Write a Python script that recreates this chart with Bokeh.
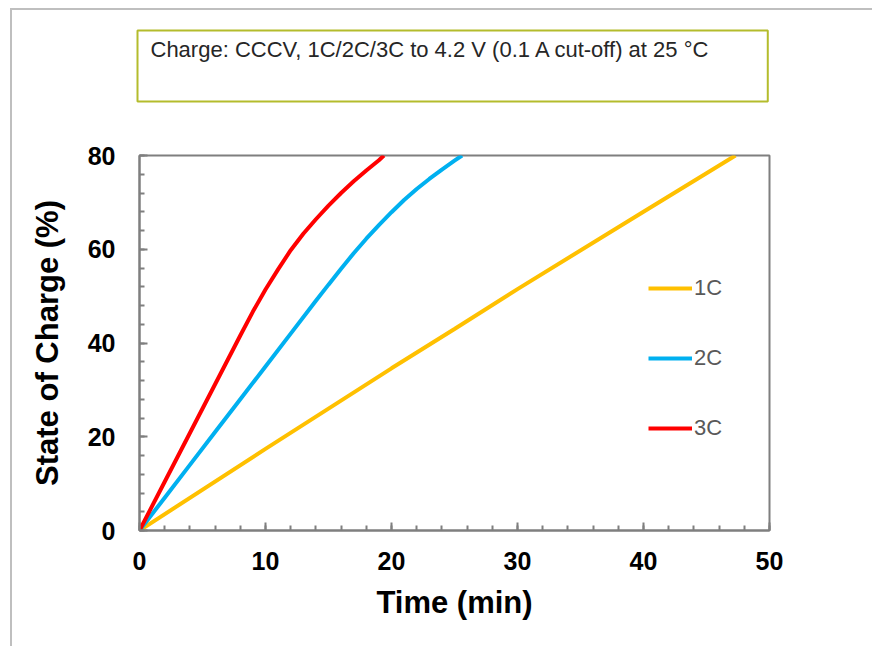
from bokeh.plotting import figure
from bokeh.models import Range1d, SingleIntervalTicker, Legend, LegendItem, Title
from bokeh.embed import file_html
from bokeh.resources import INLINE

# ---- data ----
t_1c = [0, 10, 20, 25, 30, 40, 47.3]
soc_1c = [0, 17.4, 34.6, 43.0, 51.5, 68.0, 80]

t_2c = [0, 2, 4, 6, 8, 10, 12, 14, 15, 16, 17, 18, 19, 20, 21, 22, 23, 24, 25, 25.6]
soc_2c = [0, 7, 14, 21, 28, 35, 42, 49, 52.45, 55.85, 59.15, 62.25, 65.15, 67.9, 70.5,
          72.85, 75.0, 77.0, 78.9, 80]

t_3c = [0, 2, 4, 6, 8, 9, 10, 11, 12, 13, 14, 15, 16, 17, 18, 19, 19.4]
soc_3c = [0, 10.4, 20.8, 31.2, 41.6, 46.7, 51.4, 55.7, 59.8, 63.3, 66.4, 69.3, 72.0,
          74.5, 76.8, 79.0, 80]

series_names = ["1C", "2C", "3C"]
series_colors = ["#FFC000", "#00B0F0", "#FF0000"]

title_text = "Charge: CCCV, 1C/2C/3C to 4.2 V (0.1 A cut-off) at 25 \u00b0C"
x_label = "Time (min)"
y_label = "State of Charge (%)"

FONT = "Liberation Sans"
AXIS_GRAY = "#7F7F7F"

# page border offset (outer light-grey frame of the picture)
OX, OY = 12, 10
W, H = 874 - OX, 648 - OY
FL, FR, FT, FB = 139 - OX, 769 - OX, 155 - OY, 530 - OY  # frame edges in figure px

p = figure(width=W, height=H, output_backend="svg", toolbar_location=None,
           x_range=Range1d(0, 50), y_range=Range1d(0, 80),
           min_border_left=FL, min_border_right=W - FR,
           min_border_top=FT, min_border_bottom=H - FB,
           margin=(OY - 2, 0, 0, OX - 2))
p.styles = {"border-left": "2px solid #BFBFBF", "border-top": "2px solid #BFBFBF"}
p.background_fill_color = "white"
p.border_fill_color = "white"
p.outline_line_color = AXIS_GRAY
p.outline_line_width = 2
p.grid.visible = False
p.title.text = ""
p.title.visible = False

p.xaxis.ticker = SingleIntervalTicker(interval=10, num_minor_ticks=5)
p.yaxis.ticker = SingleIntervalTicker(interval=20, num_minor_ticks=5)

for ax in (p.xaxis[0], p.yaxis[0]):
    ax.axis_line_color = AXIS_GRAY
    ax.axis_line_width = 2
    ax.major_tick_line_color = AXIS_GRAY
    ax.major_tick_line_width = 2
    ax.minor_tick_line_color = AXIS_GRAY
    ax.minor_tick_line_width = 2
    ax.major_tick_in = 8
    ax.major_tick_out = 0
    ax.minor_tick_in = 5
    ax.minor_tick_out = 0
    ax.major_label_text_font = FONT
    ax.major_label_text_font_style = "bold"
    ax.major_label_text_font_size = "25px"
    ax.major_label_text_color = "black"
    ax.axis_label_text_font = FONT
    ax.axis_label_text_font_style = "bold"
    ax.axis_label_text_font_size = "31px"
    ax.axis_label_text_color = "black"

p.xaxis.axis_label = x_label
p.yaxis.axis_label = y_label
p.xaxis.major_label_standoff = 21
p.xaxis.axis_label_standoff = 12
p.yaxis.major_label_standoff = 24
p.yaxis.axis_label_standoff = 20

# ---- series ----
rs = []
for xs, ys, c in zip([t_1c, t_2c, t_3c], [soc_1c, soc_2c, soc_3c], series_colors):
    rs.append(p.line(xs, ys, line_color=c, line_width=4))

legend = Legend(items=[LegendItem(label=n, renderers=[r]) for n, r in zip(series_names, rs)],
                location=(509, 89), orientation="vertical",
                padding=0, margin=0, spacing=44,
                glyph_width=44, glyph_height=20, label_height=20, label_standoff=2,
                label_text_font=FONT, label_text_font_size="22px",
                label_text_color="#595959",
                border_line_alpha=0, background_fill_alpha=0)
p.add_layout(legend, "center")

# ---- blank spacer between frame and the boxed title (closest to frame) ----
spacer = Title(text=" ", text_font_size="10px", text_color="white", standoff=41,
               align="left")
p.add_layout(spacer, "above")

# ---- boxed title ----
box_title = Title(text=title_text, align="left", offset=-2, text_font=FONT,
                  text_font_size="22px", text_font_style="normal",
                  text_color="#262626", border_line_color="#B4BC2C",
                  border_line_width=2, background_fill_color=None, standoff=0)
try:
    box_title.padding = dict(left=13, right=57, top=6, bottom=40)
except Exception:
    box_title.padding = (6, 57, 40, 13)
p.add_layout(box_title, "above")

open("out.html", "w").write(file_html(p, INLINE))
